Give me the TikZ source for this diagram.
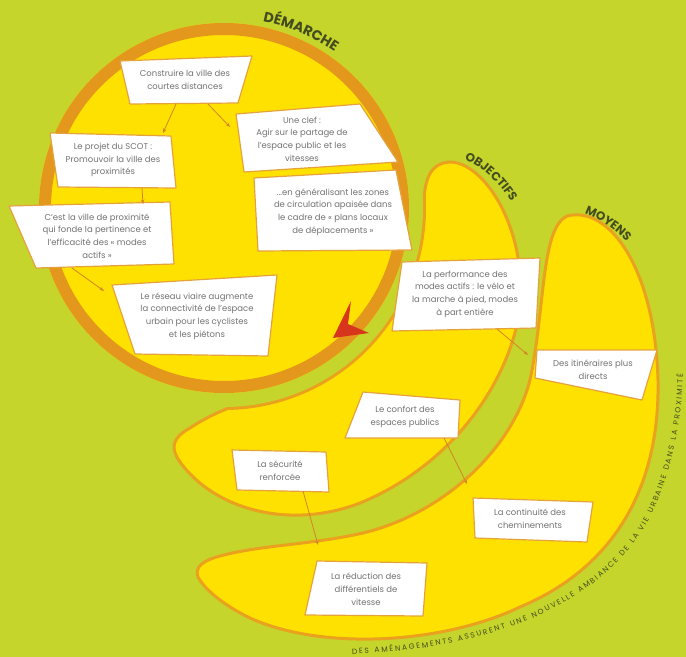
\documentclass[tikz,border=0pt]{standalone}
\usepackage{fontspec}
\setmainfont{Poppins}
\usetikzlibrary{arrows.meta,decorations.text}
\definecolor{bg}{HTML}{C5D52B}
\definecolor{yel}{HTML}{FFE100}
\definecolor{org}{HTML}{E9A11E}
\definecolor{ringc}{HTML}{E3971C}
\definecolor{boxb}{HTML}{E5A23C}
\definecolor{txtc}{HTML}{737373}
\definecolor{ttl}{HTML}{434C1E}
\definecolor{arr}{HTML}{D4842A}
\definecolor{redc}{HTML}{D8361C}
\newcommand\ttlA{\fontsize{14}{14}\bfseries\selectfont}
\newcommand\ttlB{\fontsize{12}{12}\bfseries\selectfont}
\newcommand\ttlC{\fontsize{7.5}{7.5}\selectfont}
\def\Opath{(450,162) .. controls (480,162) and (520,215) .. (521,290) .. controls (521,360) and (465,460) .. (360,503) .. controls (290,530) and (215,510) .. (180,462) .. controls (170,448) and (172,438) .. (190,428) .. controls (205,418) and (222,410) .. (240,404) -- (330,340) -- (424,200) .. controls (425,180) and (430,163) .. (450,162) -- cycle}
\def\Mpath{(567,216) .. controls (610,205) and (655,270) .. (658,380) .. controls (660,480) and (620,565) .. (520,607) .. controls (440,645) and (320,650) .. (250,618) .. controls (225,606) and (205,590) .. (198,577) .. controls (194,566) and (205,560) .. (220,556) .. controls (260,545) and (310,545) .. (363,533) .. controls (450,512) and (520,440) .. (532,370) .. controls (545,300) and (542,228) .. (567,216) -- cycle}
\begin{document}
\begin{tikzpicture}[x=1bp,y=-1bp,
  boxshape/.style={fill=white, draw=boxb, line width=1.2bp, line join=round},
  txt/.style={font=\fontsize{8.5}{12.8}\selectfont, text=txtc, align=center, inner sep=0pt},
  conn/.style={draw=arr, line width=0.8bp, -{Stealth[length=4.5bp,width=3.5bp]}},
  crescent/.style={fill=yel, draw=org, line width=3bp, line join=round}]
\useasboundingbox (0,0) rectangle (686,657);
\fill[bg] (0,0) rectangle (686,657);
% crescents
\path[crescent] \Mpath;
\path[crescent] \Opath;
\begin{scope}
  \clip \Opath;
  \fill[org] (224,208) circle[radius=202bp];
\end{scope}
\fill[bg] (224,208) circle[radius=199bp];
% circle
\fill[yel] (224,208) circle[radius=185bp];
\draw[ringc, line width=12bp] (224,208) circle[radius=179bp];
% red chevron
\fill[redc] (333,338) -- (351,301) -- (348,324) -- (369,333) -- cycle;
% boxes
\draw[boxshape] (120,61) -- (252,56) -- (238,103) -- (130,104) -- cycle;
\node[txt] (n1) at (185,80) {Construire la ville des\\courtes distances};
\draw[boxshape] (236,114) -- (360,104) -- (398,162) -- (244,172) -- cycle;
\node[txt] (n2) at (302,139) {Une clef :\\Agir sur le partage de\\l'espace public et les\\vitesses};
\draw[boxshape] (254,178) -- (396,170) -- (412,250) -- (258,251) -- cycle;
\node[txt] (n3) at (333,212) {...en généralisant les zones\\de circulation apaisée dans\\le cadre de « plans locaux\\de déplacements »};
\draw[boxshape] (50,133) -- (171,136) -- (176,188) -- (58,187) -- cycle;
\node[txt] (n4) at (113,160) {Le projet du SCOT :\\Promouvoir la ville des\\proximités};
\draw[boxshape] (9,206) -- (170,202) -- (174,264) -- (36,268) -- cycle;
\node[txt] (n5) at (97,236) {C'est la ville de proximité\\qui fonde la pertinence et\\l'efficacité des « modes\\actifs »};
\draw[boxshape] (112,285) -- (277,275) -- (268,356) -- (135,354) -- cycle;
\node[txt] (n6) at (197,316) {Le réseau viaire augmente\\la connectivité de l'espace\\urbain pour les cyclistes\\et les piétons};
\draw[boxshape] (402,262) -- (540,258) -- (536,328) -- (392,331) -- cycle;
\node[txt] (n7) at (465,294) {La performance des\\modes actifs : le vélo et\\la marche à pied, modes\\à part entière};
\draw[boxshape] (537,350) -- (657,350) -- (642,400) -- (535,378) -- cycle;
\node[txt] (n8) at (593,370) {Des itinéraires plus\\directs};
\draw[boxshape] (363,392) -- (460,400) -- (458,438) -- (345,438) -- cycle;
\node[txt] (n9) at (405,417) {Le confort des\\espaces publics};
\draw[boxshape] (232,450) -- (326,452) -- (329,492) -- (237,490) -- cycle;
\node[txt] (n10) at (280,471) {La sécurité\\renforcée};
\draw[boxshape] (473,498) -- (593,502) -- (587,542) -- (475,538) -- cycle;
\node[txt] (n11) at (530,519) {La continuité des\\cheminements};
\draw[boxshape] (317,561) -- (427,563) -- (423,616) -- (305,615) -- cycle;
\node[txt] (n12) at (366,589) {La réduction des\\différentiels de\\vitesse};
% connector ends
\coordinate (a1s) at (176,104); \coordinate (a1e) at (163,133);
\coordinate (a2s) at (208,104); \coordinate (a2e) at (230,127);
\coordinate (a3s) at (142,188); \coordinate (a3e) at (143,204);
\coordinate (a4s) at (72,268);  \coordinate (a4e) at (104,291);
\coordinate (a5s) at (497,329); \coordinate (a5e) at (528,355);
\coordinate (a6s) at (444,438); \coordinate (a6e) at (467,484);
\coordinate (a7s) at (303,491); \coordinate (a7e) at (318,545);
\draw[conn] (a1s) -- (a1e);
\draw[conn] (a2s) -- (a2e);
\draw[conn] (a3s) -- (a3e);
\draw[conn] (a4s) -- (a4e);
\draw[conn] (a5s) -- (a5e);
\draw[conn] (a6s) -- (a6e);
\draw[conn] (a7s) -- (a7e);
% titles
\path[decorate, decoration={text along path, text={|\ttlA|DÉMARCHE}, text align=center, text color=ttl}]
  (236,18) .. controls (280,20) and (322,38) .. (356,68);
\path[decorate, decoration={text along path, text={|\ttlB|OBJECTIFS}, text align=center, text color=ttl}]
  (436,155) .. controls (470,150) and (508,185) .. (524,228);
\path[decorate, decoration={text along path, text={|\ttlB|MOYENS}, text align=center, text color=ttl}]
  (548,212) .. controls (583,202) and (626,230) .. (648,272);
\path[decorate, decoration={text along path, text={|\ttlC|DES AMÉNAGEMENTS ASSURENT UNE NOUVELLE AMBIANCE DE LA VIE URBAINE DANS LA PROXIMITÉ}, text align={fit to path}, text color=ttl}]
  (352,654) .. controls (490,650) and (620,603) .. (660,495) .. controls (673,460) and (682,420) .. (683,374);
\end{tikzpicture}
\end{document}
